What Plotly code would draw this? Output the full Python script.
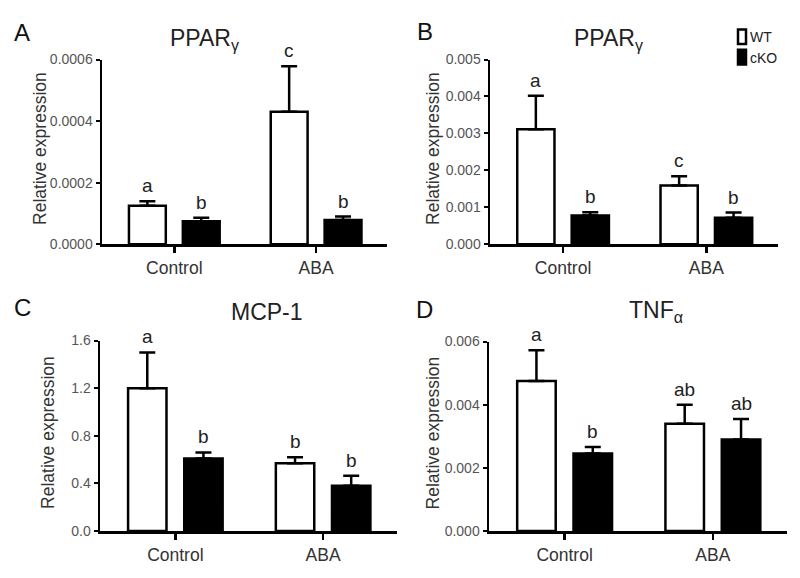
import plotly.graph_objects as go

FONT = "Arial, Liberation Sans, Helvetica, sans-serif"

categories = ["Control", "ABA"]

# Panel A: PPARγ
a_wt = [0.000125, 0.00043]
a_wt_err = [0.000015, 0.000148]
a_ko = [0.000075, 0.000079]
a_ko_err = [0.000011, 0.000011]
a_wt_sig = ["a", "c"]
a_ko_sig = ["b", "b"]

# Panel B: PPARγ
b_wt = [0.00311, 0.00159]
b_wt_err = [0.00091, 0.00025]
b_ko = [0.00078, 0.00072]
b_ko_err = [0.00009, 0.00014]
b_wt_sig = ["a", "c"]
b_ko_sig = ["b", "b"]

# Panel C: MCP-1
c_wt = [1.20, 0.57]
c_wt_err = [0.30, 0.05]
c_ko = [0.61, 0.38]
c_ko_err = [0.05, 0.085]
c_wt_sig = ["a", "b"]
c_ko_sig = ["b", "b"]

# Panel D: TNFα
d_wt = [0.00475, 0.0034]
d_wt_err = [0.00097, 0.0006]
d_ko = [0.00246, 0.0029]
d_ko_err = [0.0002, 0.00065]
d_wt_sig = ["a", "ab"]
d_ko_sig = ["b", "ab"]

panels = [
    dict(letter="A", title="PPAR<sub>γ</sub>", wt=a_wt, wte=a_wt_err, ko=a_ko, koe=a_ko_err,
         wts=a_wt_sig, kos=a_ko_sig, ymax=0.0006, dtick=0.0002, fmt=".4f",
         xd=[102, 387], yd=[53, 243], tpos=(205, 32), lpos=(22, 25), ytx=40),
    dict(letter="B", title="PPAR<sub>γ</sub>", wt=b_wt, wte=b_wt_err, ko=b_ko, koe=b_ko_err,
         wts=b_wt_sig, kos=b_ko_sig, ymax=0.005, dtick=0.001, fmt=".3f",
         xd=[490, 778], yd=[53, 243], tpos=(608, 32), lpos=(425, 24), ytx=433),
    dict(letter="C", title="MCP-1", wt=c_wt, wte=c_wt_err, ko=c_ko, koe=c_ko_err,
         wts=c_wt_sig, kos=c_ko_sig, ymax=1.6, dtick=0.4, fmt=".1f",
         xd=[100, 397], yd=[342, 538], tpos=(267, 313), lpos=(22, 308), ytx=48),
    dict(letter="D", title="TNF<sub>α</sub>", wt=d_wt, wte=d_wt_err, ko=d_ko, koe=d_ko_err,
         wts=d_wt_sig, kos=d_ko_sig, ymax=0.006, dtick=0.002, fmt=".3f",
         xd=[489, 787], yd=[343, 538], tpos=(656, 312), lpos=(424, 310), ytx=433),
]

W, H = 800, 578


def px(x):
    return x / W


def py(y):
    return (H - y) / H


OFF = 0.19

fig = go.Figure()
annotations = []
shapes = []

for i, p in enumerate(panels, start=1):
    xa = "x" if i == 1 else f"x{i}"
    ya = "y" if i == 1 else f"y{i}"
    for vals, errs, color, name in [(p["wt"], p["wte"], "white", "WT"),
                                    (p["ko"], p["koe"], "black", "cKO")]:
        fig.add_trace(go.Bar(
            x=categories, y=vals, name=name, xaxis=xa, yaxis=ya,
            marker=dict(color=color, line=dict(color="black", width=2.5)),
            error_y=dict(type="data", symmetric=False, array=errs,
                         arrayminus=[0] * len(errs), color="black",
                         thickness=2.5, width=8),
            showlegend=False, hoverinfo="skip",
        ))
    xkey = "xaxis" if i == 1 else f"xaxis{i}"
    ykey = "yaxis" if i == 1 else f"yaxis{i}"
    fig.update_layout(**{
        xkey: dict(domain=[px(p["xd"][0]), px(p["xd"][1])], anchor=ya,
                   range=[-0.51, 1.5], showline=True, linecolor="black", linewidth=2.5,
                   ticks="outside", ticklen=6, tickwidth=2.5, tickcolor="black",
                   showgrid=False, zeroline=False, fixedrange=True,
                   tickfont=dict(family=FONT, size=17.5, color="#333")),
        ykey: dict(domain=[py(p["yd"][1]), py(p["yd"][0])], anchor=xa,
                   range=[0, p["ymax"]], dtick=p["dtick"], tick0=0, tickformat=p["fmt"],
                   showline=True, linecolor="black", linewidth=2.5,
                   ticks="outside", ticklen=4, tickwidth=2, tickcolor="black",
                   showgrid=False, zeroline=False, fixedrange=True,
                   tickfont=dict(family=FONT, size=14, color="#555")),
    })
    # significance letters
    for j in range(len(categories)):
        for vals, errs, sig, off in [(p["wt"], p["wte"], p["wts"], -OFF),
                                     (p["ko"], p["koe"], p["kos"], OFF)]:
            annotations.append(dict(
                x=j + off, y=vals[j] + errs[j], xref=xa, yref=ya,
                text=sig[j], showarrow=False, yanchor="bottom", yshift=3,
                font=dict(family=FONT, size=19, color="#222")))
    # titles
    annotations.append(dict(
        x=px(p["tpos"][0]), y=py(p["tpos"][1]), xref="paper", yref="paper",
        text=p["title"], showarrow=False, xanchor="center", yanchor="middle",
        font=dict(family=FONT, size=23, color="#222")))
    # panel letters
    annotations.append(dict(
        x=px(p["lpos"][0]), y=py(p["lpos"][1]), xref="paper", yref="paper",
        text=p["letter"], showarrow=False, xanchor="center", yanchor="middle",
        font=dict(family=FONT, size=24, color="#111")))
    # y axis title
    annotations.append(dict(
        x=px(p["ytx"]), y=py((p["yd"][0] + p["yd"][1]) / 2 - 3),
        xref="paper", yref="paper", text="Relative expression", textangle=-90,
        showarrow=False, xanchor="center", yanchor="middle",
        font=dict(family=FONT, size=17.5, color="#333")))

# legend (panel B)
legend_items = [("WT", "white"), ("cKO", "black")]
for k, (lab, col) in enumerate(legend_items):
    y0 = 22 + k * 21
    shapes.append(dict(type="rect", xref="paper", yref="paper",
                       x0=px(738), x1=px(746), y0=py(y0), y1=py(y0 + 15),
                       fillcolor=col, line=dict(color="black", width=2.5)))
    annotations.append(dict(x=px(748), y=py(y0 + 8), xref="paper", yref="paper",
                            text=lab, showarrow=False, xanchor="left", yanchor="middle",
                            font=dict(family=FONT, size=14, color="#222")))

fig.update_layout(
    width=W, height=H, margin=dict(l=0, r=0, t=0, b=0),
    paper_bgcolor="white", plot_bgcolor="white",
    barmode="group", bargap=0.24, bargroupgap=0.316,
    annotations=annotations, shapes=shapes, showlegend=False,
    hovermode=False,
    font=dict(family=FONT),
)

fig.write_html("out.html", config={"displayModeBar": False, "staticPlot": True},
               post_script="document.body.style.margin='0';document.body.style.overflow='hidden';")
